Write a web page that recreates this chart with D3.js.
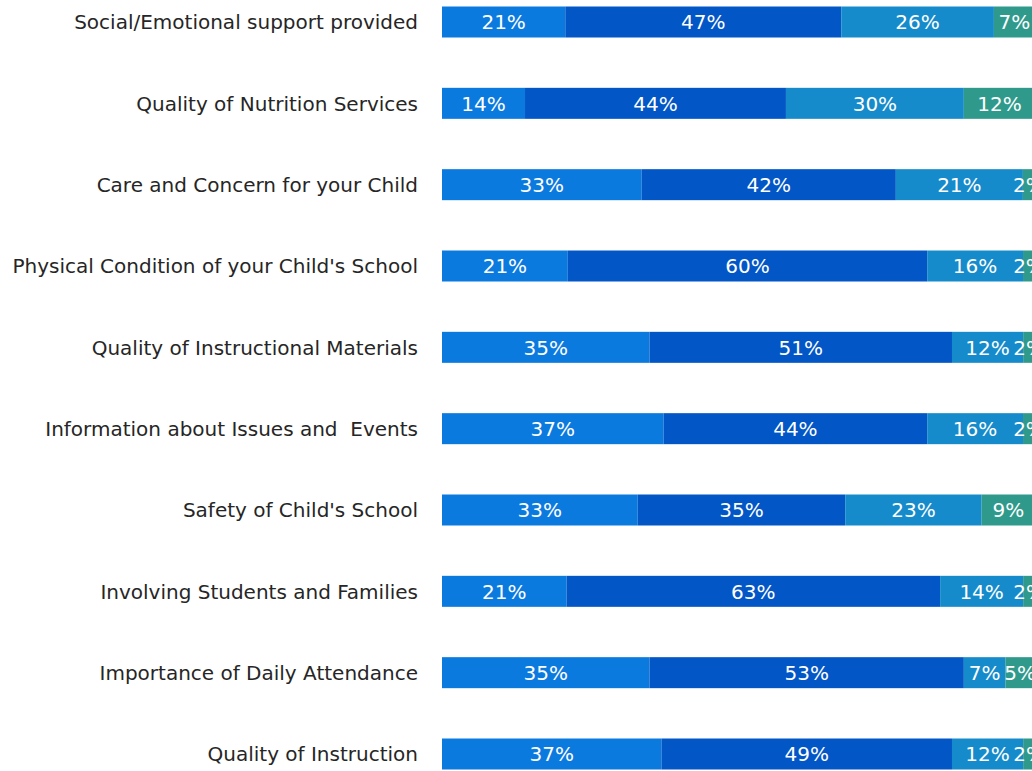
<!DOCTYPE html>
<html>
<head>
<meta charset="utf-8">
<script src="https://cdn.jsdelivr.net/npm/d3@7"></script>
<style>
  body { margin: 0; background: #fff; }
  svg { display: block; }
  .cat { font-family: "DejaVu Sans", sans-serif; font-size: 20px; fill: #262626; white-space: pre; }
  .val { font-family: "DejaVu Sans", sans-serif; font-size: 20px; fill: #fff; }
</style>
</head>
<body>
<svg></svg>
<script>
// categories, top to bottom
const categories = [
  "Social/Emotional support provided",
  "Quality of Nutrition Services",
  "Care and Concern for your Child",
  "Physical Condition of your Child's School",
  "Quality of Instructional Materials",
  "Information about Issues and  Events",
  "Safety of Child's School",
  "Involving Students and Families",
  "Importance of Daily Attendance",
  "Quality of Instruction"
];

// four response levels, in percent, one value per category
const series1 = [21, 14, 33, 21, 35, 37, 33, 21, 35, 37];
const series2 = [47, 44, 42, 60, 51, 44, 35, 63, 53, 49];
const series3 = [26, 30, 21, 16, 12, 16, 23, 14, 7, 12];
const series4 = [7, 12, 2, 2, 2, 2, 9, 2, 5, 2];

const colors = ["#0b7adf", "#0256c6", "#168bcb", "#2f9a8c"];

const width = 1032;
const height = 771;

const svg = d3.select("svg")
  .attr("width", width)
  .attr("height", height);

// 100% stacked: each row fills the whole bar
const x = d3.scaleLinear()
  .domain([0, 1])
  .range([442, 1035]);

const y = d3.scalePoint()
  .domain(categories)
  .range([22, 754]);

const barH = 31;

const rows = categories.map((c, i) => ({
  cat: c, s1: series1[i], s2: series2[i], s3: series3[i], s4: series4[i]
}));
const keys = ["s1", "s2", "s3", "s4"];
const stack = d3.stack().keys(keys).offset(d3.stackOffsetExpand);
const layers = stack(rows);

const layer = svg.selectAll(".layer")
  .data(layers)
  .enter()
  .append("g")
  .attr("class", "layer")
  .attr("fill", (d, i) => colors[i]);

layer.selectAll("rect")
  .data(d => d)
  .enter()
  .append("rect")
  .attr("x", d => x(d[0]))
  .attr("y", d => y(d.data.cat) - barH / 2)
  .attr("width", d => x(d[1]) - x(d[0]))
  .attr("height", barH);

// percent labels, centred in each segment
layers.forEach(l => {
  svg.selectAll(null)
    .data(l)
    .enter()
    .append("text")
    .attr("class", "val")
    .attr("x", d => (x(d[0]) + x(d[1])) / 2)
    .attr("y", d => y(d.data.cat))
    .attr("dy", "0.36em")
    .attr("text-anchor", "middle")
    .text(d => d.data[l.key] + "%");
});

// category labels
svg.selectAll(".cat")
  .data(categories)
  .enter()
  .append("text")
  .attr("class", "cat")
  .attr("x", 418)
  .attr("y", d => y(d))
  .attr("dy", "0.36em")
  .attr("text-anchor", "end")
  .text(d => d);
</script>
</body>
</html>
